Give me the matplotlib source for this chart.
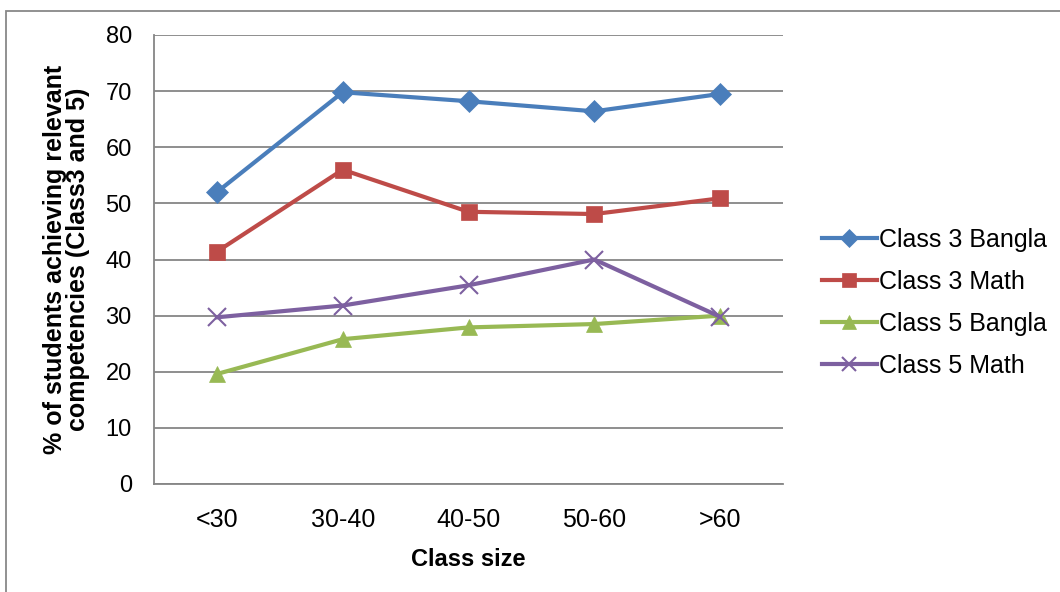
import matplotlib
matplotlib.use('Agg')
import numpy as np
import matplotlib.pyplot as plt
from matplotlib.patches import Rectangle

plt.rcParams['font.family'] = ['Liberation Sans', 'DejaVu Sans']

# class size groups on the x axis
class_sizes = ["<30", "30-40", "40-50", "50-60", ">60"]

# % of students achieving relevant competencies
class3_bangla = [52.0, 69.8, 68.2, 66.4, 69.5]
class3_math = [41.4, 56.0, 48.5, 48.1, 50.9]
class5_bangla = [19.6, 25.8, 27.9, 28.5, 30.0]
class5_math = [29.7, 31.8, 35.4, 40.0, 29.8]

series = [
    ("Class 3 Bangla", class3_bangla, "#4A7EBB", "D", 11),
    ("Class 3 Math", class3_math, "#BE4B48", "s", 12),
    ("Class 5 Bangla", class5_bangla, "#98B954", "^", 12),
    ("Class 5 Math", class5_math, "#7D60A0", "x", 13),
]

fig = plt.figure(figsize=(10.6, 5.92), dpi=100)
ax = fig.add_axes([154 / 1060, 1 - 484 / 592, (783 - 154) / 1060, (484 - 35) / 592])

x = np.arange(len(class_sizes))
for name, vals, color, marker, ms in series:
    ax.plot(x, vals, color=color, lw=3, marker=marker, markersize=ms,
            markeredgewidth=1.5 if marker == "x" else 0.5,
            markeredgecolor=color, label=name, zorder=3)

ax.set_xlim(-0.5, len(class_sizes) - 0.5)
ax.set_ylim(0, 80)
ax.set_yticks(range(0, 81, 10))
ax.set_xticks(x)
ax.set_xticklabels(class_sizes)
ax.tick_params(axis='both', length=0, colors='black')
ax.tick_params(axis='y', pad=16, labelsize=17)
ax.tick_params(axis='x', pad=17, labelsize=18)
ax.grid(axis='y', color='#868686', lw=1.3)
ax.set_axisbelow(True)
for side in ('top', 'right'):
    ax.spines[side].set_visible(False)
for side in ('left', 'bottom'):
    ax.spines[side].set_color('#868686')
    ax.spines[side].set_linewidth(1.3)

ax.set_xlabel("Class size", fontsize=17, fontweight='bold', labelpad=12)
ax.set_ylabel("% of students achieving relevant\ncompetencies (Class3 and 5)",
              fontsize=18, fontweight='bold', labelpad=11, linespacing=0.95)

# legend handles: long line with a small marker
handles, labels = ax.get_legend_handles_labels()
fig.legend(handles, labels, loc='center left',
           bbox_to_anchor=(799 / 1060, 1 - 303 / 592),
           frameon=False, fontsize=18, handlelength=2.2, labelspacing=0.72,
           handletextpad=0.1, markerscale=0.8)

# outer frame around the chart
fig.patches.append(Rectangle((6 / 1060, -0.01), 1.1, 1 - 11 / 592 + 0.01,
                             transform=fig.transFigure, fill=False,
                             edgecolor='#888888', lw=1.3))

fig.savefig("out.png", dpi=100)
